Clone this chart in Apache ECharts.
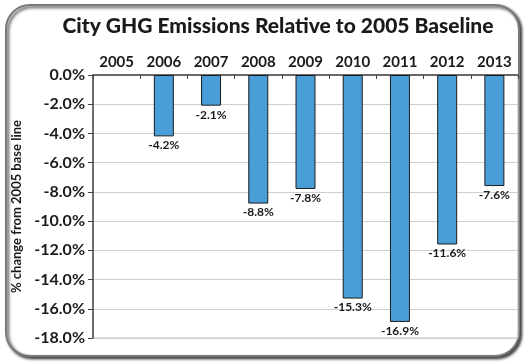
<!DOCTYPE html>
<html><head><meta charset="utf-8">
<script src="https://cdn.jsdelivr.net/npm/echarts@6/dist/echarts.min.js"></script>
<style>html,body{margin:0;padding:0;background:#fff}#c{width:524px;height:362px}</style>
</head><body><div id="c"></div>
<script>
var years = ['2005','2006','2007','2008','2009','2010','2011','2012','2013'];
var changePct = [null, -4.2, -2.1, -8.8, -7.8, -15.3, -16.9, -11.6, -7.6];
var titleText = 'City GHG Emissions Relative to 2005 Baseline';
var yAxisName = '% change from 2005 base line';

var chart = echarts.init(document.getElementById('c'), null, {renderer:'canvas'});
var FONT = 'Lato';
chart.setOption({
  animation:false,
  backgroundColor:'#fff',
  graphic:[{
    type:'rect', z:-1, silent:true,
    shape:{x:6,y:5,width:513,height:351,r:24},
    style:{fill:'#fff', stroke:'#7a7a7a', lineWidth:2, shadowBlur:3, shadowOffsetX:2, shadowOffsetY:2, shadowColor:'rgba(0,0,0,0.75)'}
  }],
  title:{
    text:titleText, left:273, textAlign:'center', top:11,
    textStyle:{fontFamily:FONT, fontWeight:900, fontSize:21, color:'#1a1a1a'}
  },
  grid:{left:93, right:6, top:75, bottom:24, show:true, borderColor:'#bdbdbd', borderWidth:1, containLabel:false},
  xAxis:{
    type:'category', position:'top', data:years,
    axisLine:{show:true, lineStyle:{color:'#444', width:1.5}},
    axisTick:{show:true, inside:true, length:4, alignWithLabel:false, lineStyle:{color:'#444'}},
    axisLabel:{fontFamily:FONT, fontWeight:'bold', fontSize:15, color:'#1a1a1a', margin:5, interval:0},
    splitLine:{show:false}
  },
  yAxis:{
    type:'value', min:-18, max:0, interval:2,
    name:yAxisName, nameLocation:'middle', nameGap:67, nameRotate:90,
    nameTextStyle:{fontFamily:FONT, fontWeight:'bold', fontSize:13, color:'#1a1a1a'},
    axisLine:{show:true, lineStyle:{color:'#444', width:1.5}},
    axisTick:{show:true, length:5, lineStyle:{color:'#444'}},
    axisLabel:{fontFamily:FONT, fontWeight:'bold', fontSize:16, color:'#1a1a1a', margin:8,
      formatter:function(v){return v.toFixed(1)+'%';}},
    splitLine:{show:true, lineStyle:{color:'#cfcfcf', width:1}}
  },
  series:[{
    type:'bar', data:changePct, barWidth:20,
    itemStyle:{color:'#4a9ed8', borderColor:'#1c1c1c', borderWidth:1},
    label:{show:true, position:'bottom', distance:3,
      fontFamily:FONT, fontWeight:'bold', fontSize:12, color:'#1a1a1a',
      formatter:function(p){return p.value==null?'':p.value.toFixed(1)+'%';}}
  }]
});
</script></body></html>
